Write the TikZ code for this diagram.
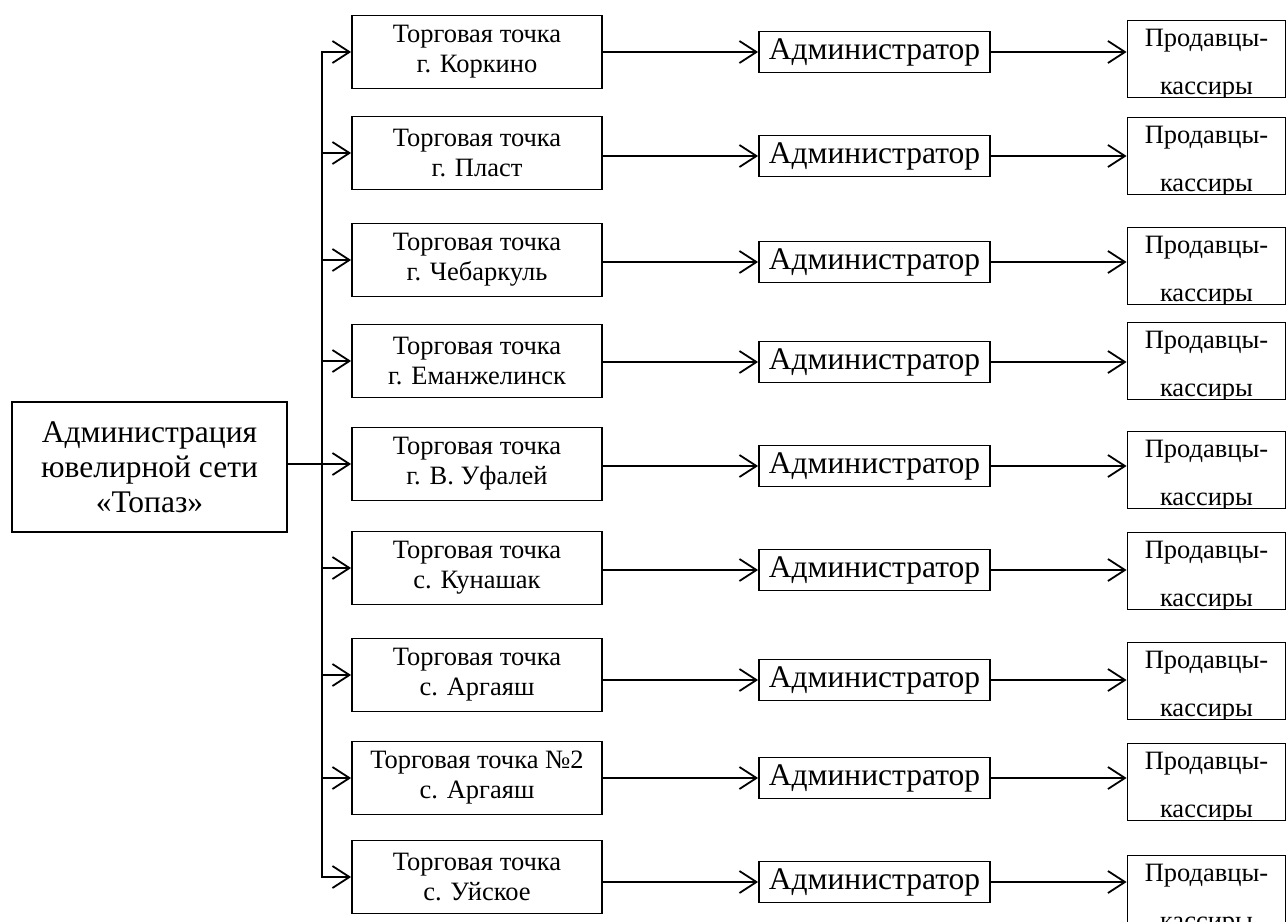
\documentclass[tikz,border=0pt]{standalone}
\usepackage{fontspec}
\setmainfont{Liberation Serif}
\usetikzlibrary{arrows.meta}

\begin{document}
\begin{tikzpicture}[x=1pt,y=-1pt]
    \tikzset{
        head/.style={draw, line width=1.8pt, minimum width=275pt, minimum height=130pt, inner sep=0pt, align=center, font=\fontsize{31.5}{35}\selectfont},
        point/.style={draw, line width=1.8pt, minimum width=250pt, minimum height=73pt, inner sep=0pt, align=center, font=\fontsize{26.5}{30}\selectfont},
        admin/.style={draw, line width=1.8pt, minimum width=231pt, minimum height=41pt, inner sep=0pt, font=\fontsize{31.5}{34}\selectfont},
        staff/.style={draw, line width=1.8pt, minimum width=158pt, minimum height=77pt, inner sep=0pt,
            path picture={\node[anchor=south, inner sep=0pt, text depth=0pt, align=center, font=\fontsize{26.5}{48}\selectfont]
                at ([yshift=-4pt]path picture bounding box.south) {Продавцы-\\кассиры};}},
        arc/.style={-{Straight Barb[length=17pt, width=22pt]}, line width=1.8pt}
    }
    \useasboundingbox (0,0) rectangle (1287,921);

    \draw node[head] (net) at (149.5,467) {Администрация\\ювелирной сети\\«Топаз»};
    \coordinate (trunk) at (322,0);

    \draw node[point] (t1) at (477,52) {Торговая точка\\г. Коркино};
    \draw node[point] (t2) at (477,153) {Торговая точка\\г. Пласт};
    \draw node[point] (t3) at (477,260) {Торговая точка\\г. Чебаркуль};
    \draw node[point] (t4) at (477,361) {Торговая точка\\г. Еманжелинск};
    \draw node[point] (t5) at (477,464) {Торговая точка\\г. В. Уфалей};
    \draw node[point] (t6) at (477,568) {Торговая точка\\с. Кунашак};
    \draw node[point] (t7) at (477,675) {Торговая точка\\с. Аргаяш};
    \draw node[point] (t8) at (477,778) {Торговая точка №2\\с. Аргаяш};
    \draw node[point] (t9) at (477,877) {Торговая точка\\с. Уйское};

    \draw[line width=1.8pt, line cap=rect] (trunk |- t1.west) -- (trunk |- t9.west);
    \draw[line width=1.8pt] (net.east |- t5.west) -- (trunk |- t5.west);

    \foreach \i/\ay/\py in {1/52/59, 2/156/156, 3/262/266, 4/362/361, 5/466/470,
                            6/570/571, 7/680/681, 8/778/782, 9/882/894} {
        \draw node[admin] (a\i) at (874.5,\ay) {Администратор};
        \draw node[staff] (s\i) at (1206.5,\py) {};
        \draw[arc] (trunk |- t\i.west) -- (t\i.west);
        \draw[arc] (t\i.east |- a\i.west) -- (a\i.west);
        \draw[arc] (a\i.east) -- (a\i.east -| s\i.west);
    }
\end{tikzpicture}
\end{document}
